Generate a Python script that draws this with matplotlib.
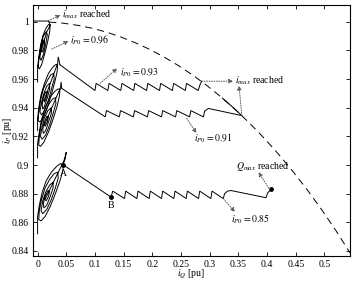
import matplotlib
matplotlib.use('Agg')
import matplotlib.pyplot as plt

plt.rcParams['font.family'] = ['Liberation Serif', 'DejaVu Serif']
plt.rcParams['mathtext.fontset'] = 'stix'

# ---------------- data (iQ, iP) ----------------
spiral_96 = [(0.000,0.958),(0.000,0.968),
    (0.002,0.975),(0.005,0.983),(0.009,0.990),(0.014,0.995),(0.019,0.998),(0.022,0.998),
    (0.021,0.993),(0.017,0.985),(0.012,0.977),(0.007,0.970),(0.003,0.967),(0.001,0.969),
    (0.003,0.976),(0.006,0.984),(0.010,0.990),(0.015,0.993),(0.017,0.991),(0.014,0.984),
    (0.010,0.977),(0.006,0.973),(0.004,0.975),
    (0.006,0.981),(0.009,0.986),(0.012,0.988),(0.012,0.984),(0.009,0.979),(0.007,0.979),(0.008,0.982),
    (0.016,0.993),(0.022,0.9975),(0.019,1.0005),(-0.008,1.0005)]

spiral_93 = [(0.000,0.924),(0.000,0.932),
    (0.002,0.940),(0.006,0.949),(0.012,0.957),(0.019,0.964),(0.026,0.968),(0.031,0.970),(0.035,0.970),
    (0.034,0.965),(0.030,0.958),(0.024,0.949),(0.017,0.940),(0.010,0.933),(0.004,0.930),(0.001,0.931),
    (0.002,0.937),(0.005,0.945),(0.010,0.953),(0.017,0.959),(0.023,0.963),(0.028,0.964),(0.029,0.960),
    (0.024,0.953),(0.019,0.945),(0.012,0.938),(0.007,0.935),(0.004,0.937),
    (0.007,0.944),(0.011,0.950),(0.016,0.955),(0.021,0.957),(0.021,0.953),(0.017,0.947),(0.012,0.941),
    (0.009,0.939),(0.008,0.942),
    (0.010,0.947),(0.014,0.951),(0.017,0.951),(0.015,0.947),(0.012,0.944),(0.011,0.945),
    (0.024,0.959),(0.035,0.971),(0.036,0.9755),(0.039,0.970)]
saw_93 = [(0.039,0.970),(0.100,0.952),(0.102,0.957),(0.1225,0.952),(0.1245,0.957),(0.145,0.952),
    (0.147,0.957),(0.1675,0.952),(0.1695,0.957),(0.190,0.952),(0.192,0.957),(0.2125,0.952),
    (0.2145,0.957),(0.235,0.952),(0.237,0.957),(0.2575,0.952),(0.2595,0.957),(0.280,0.952),
    (0.2825,0.9555),(0.286,0.9585)]

spiral_91 = [(0.000,0.905),(0.000,0.915),
    (0.003,0.923),(0.007,0.932),(0.013,0.940),(0.021,0.947),(0.029,0.951),(0.035,0.953),(0.039,0.953),
    (0.038,0.948),(0.034,0.941),(0.027,0.932),(0.019,0.923),(0.011,0.916),(0.005,0.913),(0.002,0.914),
    (0.003,0.920),(0.006,0.928),(0.012,0.936),(0.019,0.942),(0.026,0.946),(0.031,0.947),(0.032,0.943),
    (0.027,0.936),(0.021,0.928),(0.014,0.921),(0.008,0.918),(0.005,0.920),
    (0.008,0.927),(0.012,0.933),(0.018,0.938),(0.024,0.940),(0.024,0.936),(0.019,0.930),(0.014,0.924),
    (0.010,0.922),(0.009,0.925),
    (0.012,0.930),(0.016,0.934),(0.019,0.934),(0.017,0.930),(0.013,0.927),(0.012,0.928),
    (0.027,0.942),(0.040,0.954),(0.041,0.958),(0.042,0.9535)]
saw_91 = [(0.042,0.9535),(0.118,0.9336),(0.120,0.938),(0.1425,0.9336),(0.1445,0.938),(0.167,0.9336),
    (0.169,0.938),(0.1915,0.9336),(0.1935,0.938),(0.216,0.9336),(0.218,0.938),(0.2405,0.9336),
    (0.2425,0.938),(0.265,0.9336),(0.267,0.938),(0.289,0.9336),(0.291,0.9375),(0.2976,0.9395),
    (0.356,0.9345),(0.340,0.9404),(0.322,0.9467)]

spiral_85 = [(0.000,0.852),(0.000,0.864),
    (0.003,0.872),(0.008,0.881),(0.015,0.889),(0.024,0.895),(0.033,0.899),(0.040,0.901),(0.045,0.900),
    (0.044,0.896),(0.039,0.889),(0.031,0.880),(0.022,0.871),(0.013,0.864),(0.006,0.861),(0.002,0.862),
    (0.003,0.868),(0.007,0.876),(0.013,0.884),(0.021,0.890),(0.029,0.894),(0.035,0.895),(0.036,0.891),
    (0.031,0.884),(0.024,0.876),(0.016,0.869),(0.009,0.866),(0.006,0.868),
    (0.009,0.875),(0.014,0.881),(0.021,0.886),(0.027,0.888),(0.027,0.884),(0.022,0.878),(0.016,0.872),
    (0.011,0.870),(0.010,0.873),
    (0.013,0.878),(0.018,0.882),(0.021,0.882),(0.019,0.878),(0.015,0.875),(0.013,0.876),
    (0.030,0.890),(0.046,0.903),(0.050,0.909),(0.048,0.904),(0.044,0.9003)]
saw_85 = [(0.044,0.9003),(0.128,0.8776),(0.131,0.8818),(0.1515,0.8766),(0.1535,0.8818),(0.173,0.8766),
    (0.175,0.8818),(0.1945,0.8766),(0.1965,0.8818),(0.216,0.8766),(0.218,0.8818),(0.2375,0.8766),
    (0.2395,0.8818),(0.259,0.8766),(0.261,0.8818),(0.2805,0.8766),(0.2825,0.8818),(0.302,0.8766),
    (0.304,0.8818),(0.3235,0.8766),(0.326,0.880),(0.331,0.8818),(0.337,0.8822),(0.398,0.8772),
    (0.401,0.8805),(0.407,0.8832)]

point_A = (0.044, 0.9003)
point_B = (0.128, 0.8776)
end_85 = (0.407, 0.8832)

limit_q = [0.020,0.045,0.070,0.095,0.120,0.145,0.170,0.195,0.220,0.245,0.270,0.295,
           0.320,0.345,0.370,0.395,0.420,0.445,0.470,0.495,0.520,0.545]
limit_p = [0.9998,0.9990,0.9975,0.9955,0.9928,0.9894,0.9854,0.9808,0.9755,0.9695,0.9629,0.9555,
           0.9474,0.9386,0.9290,0.9187,0.9075,0.8955,0.8827,0.8689,0.8542,0.8384]

xticks = [0, 0.05, 0.1, 0.15, 0.2, 0.25, 0.3, 0.35, 0.4, 0.45, 0.5]
xtick_labels = ['0', '0.05', '0.1', '0.15', '0.2', '0.25', '0.3', '0.35', '0.4', '0.45', '0.5']
yticks = [0.84, 0.86, 0.88, 0.9, 0.92, 0.94, 0.96, 0.98, 1.0]
ytick_labels = ['0.84', '0.86', '0.88', '0.9', '0.92', '0.94', '0.96', '0.98', '1']

# ---------------- figure ----------------
fig = plt.figure(figsize=(3.57, 2.81), dpi=100)
ax = fig.add_axes([33/357, 1-256/281, (350-33)/357, (256-5)/281])

for seg in [spiral_96, spiral_93, saw_93, spiral_91, saw_91, spiral_85, saw_85]:
    q, p = zip(*seg)
    ax.plot(q, p, color='k', lw=0.7, solid_joinstyle='miter')

ax.plot(limit_q, limit_p, color='k', lw=0.7, dashes=(7.5, 5))

for pt in [point_A, point_B, end_85]:
    ax.plot([pt[0]], [pt[1]], 'o', color='k', ms=2.5)

fs = 7
ax.text(point_A[0] + 0.001, 0.894, 'A', fontsize=fs, ha='center', va='center')
ax.text(point_B[0], 0.8716, 'B', fontsize=fs, ha='center', va='center')

arrow_kw = dict(arrowstyle='-|>', color='0.35', lw=0.7, linestyle=(0, (1, 1.5)),
                mutation_scale=6, shrinkA=0, shrinkB=0)

def arrow(tail, head):
    ax.annotate('', xy=head, xytext=tail, arrowprops=arrow_kw)

arrow((0.019, 1.0008), (0.040, 1.0047))
ax.text(0.043, 1.0047, r'$i_{max}$ reached', fontsize=fs, ha='left', va='center')

arrow((0.025, 0.981), (0.054, 0.9865))
ax.text(0.057, 0.987, r'$i_{P0}=0.96$', fontsize=fs, ha='left', va='center')

arrow((0.109, 0.957), (0.139, 0.9675))
ax.text(0.143, 0.9645, r'$i_{P0}=0.93$', fontsize=fs, ha='left', va='center')

arrow((0.286, 0.9585), (0.341, 0.9585))
arrow((0.356, 0.9345), (0.351, 0.9555))
ax.text(0.344, 0.9585, r'$i_{max}$ reached', fontsize=fs, ha='left', va='center')

arrow((0.260, 0.9325), (0.277, 0.9222))
ax.text(0.273, 0.9187, r'$i_{P0}=0.91$', fontsize=fs, ha='left', va='center')

arrow((0.405, 0.8825), (0.385, 0.895))
ax.text(0.346, 0.8987, r'$Q_{max}$ reached', fontsize=fs, ha='left', va='center')

arrow((0.324, 0.8765), (0.344, 0.8672))
ax.text(0.337, 0.8625, r'$i_{P0}=0.85$', fontsize=fs, ha='left', va='center')

ax.set_xlim(-0.008, 0.5445)
ax.set_ylim(0.8365, 1.0117)
ax.set_xticks(xticks)
ax.set_xticklabels(xtick_labels)
ax.set_yticks(yticks)
ax.set_yticklabels(ytick_labels)
ax.tick_params(direction='in', top=True, right=True, labelsize=fs, length=3, width=0.6, pad=3)
for s in ax.spines.values():
    s.set_linewidth(0.8)

ax.set_xlabel(r'$i_Q$ [pu]', fontsize=fs)
ax.set_ylabel(r'$i_P$ [pu]', fontsize=fs)
ax.xaxis.label.set_va('center')
ax.yaxis.label.set_va('center')
ax.xaxis.set_label_coords(0.5, (256 - 274.5) / 251)
ax.yaxis.set_label_coords((7 - 33) / 317, 0.5)

fig.savefig('out.png', dpi=100)
